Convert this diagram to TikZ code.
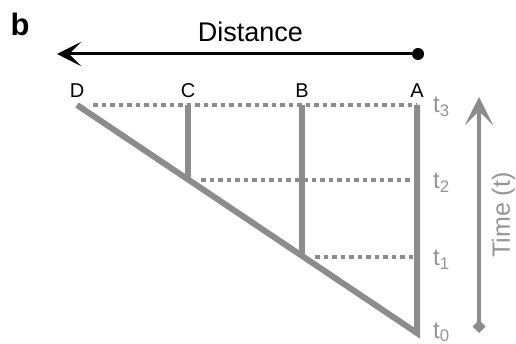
\documentclass[tikz,border=0pt]{standalone}
\usepackage{fontspec}
\setmainfont{Liberation Sans}
\usetikzlibrary{arrows.meta, positioning}
\definecolor{lanegray}{HTML}{8C8C8C}
\definecolor{ticktext}{HTML}{959595}

\begin{document}
\begin{tikzpicture}[
    x=1pt, y=-1pt,
    track/.style={draw=lanegray, line width=6pt, line cap=butt},
    timeline/.style={draw=lanegray, line width=4pt, dash pattern=on 4.5pt off 4pt},
    site/.style={font=\fontsize{20}{24}\selectfont, inner sep=0pt},
    tick/.style={font=\fontsize{24}{28}\selectfont, text=ticktext, inner sep=0pt, anchor=base west},
    origin/.style={circle, fill=black, minimum size=12pt, inner sep=0pt},
    axis/.style={-{Stealth[length=24pt, width=24pt, inset=12pt]}, line width=3pt},
    timeaxis/.style={{Diamond[length=13pt, width=13pt]}-{Stealth[length=28pt, width=28pt, inset=14pt]}, draw=lanegray, line width=3.5pt}
]
\useasboundingbox (0,0) rectangle (516,344);

% panel letter
\node[font=\fontsize{31}{34}\selectfont\bfseries, inner sep=0pt] (panel) at (20,24) {b};

% distance axis
\node[origin] (start) at (418,54) {};
\coordinate (far) at (57,54);
\draw[axis] (start) -- node[pos=0.455, above=11pt, inner sep=0pt, font=\fontsize{27}{32}\selectfont] (dist) {Distance} (far);

% sites and time levels
\coordinate (D3) at (77,105);
\coordinate (C3) at (188,105);
\coordinate (B3) at (302,105);
\coordinate (A3) at (417,105);
\coordinate (C2) at (188,180);
\coordinate (A2) at (417,180);
\coordinate (B1) at (302,257);
\coordinate (A1) at (417,257);
\coordinate (A0) at (417,333);

\draw[timeline] ([xshift=16pt]D3) -- (A3);
\draw[timeline] ([xshift=13pt]C2) -- (A2);
\draw[timeline] ([xshift=13pt]B1) -- (A1);

\draw[track] (C3) -- (C2);
\draw[track] (B3) -- (B1);
\draw[track] (D3) -- (A0) -- (A3);

\node[site, above=7pt of D3] (lblD) {D};
\node[site, above=7pt of C3] (lblC) {C};
\node[site, above=7pt of B3] (lblB) {B};
\node[site, above=7pt of A3] (lblA) {A};

\node[tick] (t3) at (433,113) {t\textsubscript{3}};
\node[tick] (t2) at (433,189) {t\textsubscript{2}};
\node[tick] (t1) at (433,266) {t\textsubscript{1}};
\node[tick] (t0) at (433,338) {t\textsubscript{0}};

% time axis
\coordinate (tbot) at (479,333);
\coordinate (ttop) at (479,97);
\draw[timeaxis] (tbot) -- node[midway, sloped, below=11pt, inner sep=0pt, text=ticktext, font=\fontsize{25}{30}\selectfont] (timelbl) {Time (t)} (ttop);

\end{tikzpicture}
\end{document}
